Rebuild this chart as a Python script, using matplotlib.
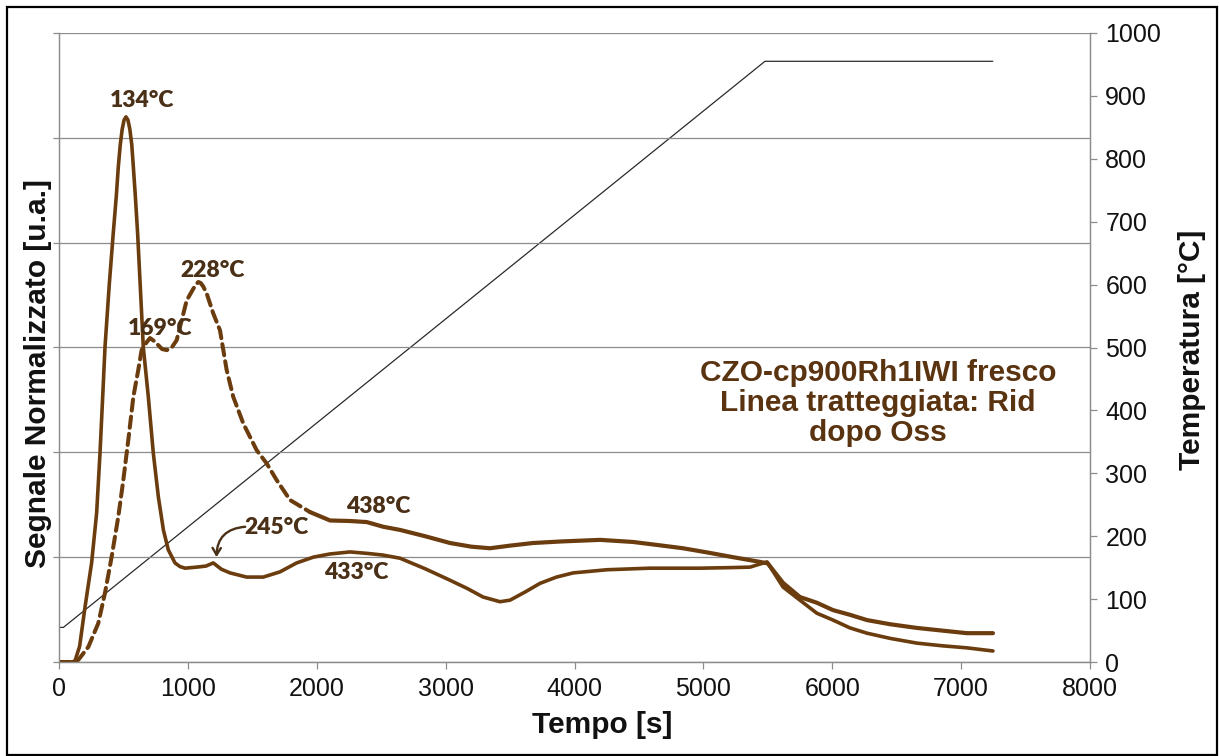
import matplotlib
matplotlib.use("Agg")
import matplotlib.pyplot as plt
from matplotlib.patches import Rectangle

# --- data -------------------------------------------------------------
# fresh sample (solid line): time [s] and normalised signal [a.u.]
t_fresco = [0, 100, 124, 160, 202, 253, 292, 318, 339, 357, 390, 421, 445,
            460, 475, 490, 505, 520, 535, 550, 565, 577, 592, 610, 632, 654,
            693, 732, 771, 810, 848, 900, 939, 978, 1068, 1140, 1197, 1260,
            1327, 1456, 1585, 1715, 1844, 1973, 2100, 2258, 2400, 2514, 2646,
            2840, 3034, 3170, 3290, 3422, 3500, 3620, 3732, 3860, 3990, 4252,
            4586, 4974, 5200, 5362, 5494, 5618, 5749, 5881, 6006, 6138, 6269,
            6450, 6657, 6850, 7045, 7247]
s_fresco = [0.0, 0.0, 0.002, 0.03, 0.105, 0.189, 0.284, 0.398, 0.506, 0.601,
            0.72, 0.818, 0.89, 0.944, 0.986, 1.016, 1.034, 1.04, 1.034, 1.016,
            0.986, 0.944, 0.89, 0.818, 0.71, 0.601, 0.506, 0.398, 0.315, 0.252,
            0.214, 0.189, 0.182, 0.179, 0.181, 0.183, 0.189, 0.177, 0.17,
            0.162, 0.162, 0.172, 0.189, 0.2, 0.206, 0.21, 0.207, 0.204, 0.198,
            0.178, 0.156, 0.14, 0.124, 0.115, 0.118, 0.134, 0.15, 0.162, 0.17,
            0.176, 0.179, 0.179, 0.18, 0.181, 0.191, 0.143, 0.118, 0.093, 0.08,
            0.065, 0.055, 0.045, 0.036, 0.031, 0.027, 0.021]

# reduction after oxidation (dashed line)
t_rid = [0, 100, 150, 228, 305, 357, 408, 460, 499, 538, 577, 615, 641, 680,
         706, 740, 800, 836, 875, 913, 950, 991, 1042, 1065, 1081, 1100, 1120,
         1146, 1197, 1249, 1301, 1352, 1430, 1534, 1611, 1689, 1793, 1948,
         2103, 2258, 2387, 2516, 2646, 2840, 3034, 3200, 3344, 3500, 3678,
         3900, 4198, 4454, 4650, 4842, 5030, 5230, 5439, 5500, 5618, 5749,
         5881, 6006, 6138, 6269, 6450, 6657, 6850, 7045, 7247]
s_rid = [0.0, 0.0, 0.004, 0.029, 0.074, 0.132, 0.2, 0.277, 0.347, 0.424,
         0.506, 0.557, 0.595, 0.61, 0.618, 0.612, 0.597, 0.595, 0.6, 0.614,
         0.65, 0.69, 0.712, 0.721, 0.725, 0.723, 0.716, 0.703, 0.665, 0.633,
         0.557, 0.506, 0.455, 0.404, 0.379, 0.347, 0.309, 0.286, 0.27, 0.269,
         0.267, 0.258, 0.252, 0.24, 0.227, 0.22, 0.217, 0.222, 0.227, 0.23,
         0.233, 0.229, 0.223, 0.217, 0.209, 0.2, 0.191, 0.188, 0.151, 0.124,
         0.113, 0.099, 0.09, 0.08, 0.072, 0.065, 0.06, 0.055, 0.055]

# temperature programme
t_temp = [0, 34, 5478, 7244]
temp = [55, 55, 955, 955]

# peak labels: text, anchor (time, signal)
peak_labels = ["134°C", "228°C", "169°C", "245°C", "433°C", "438°C"]
peak_pos = [(642, 1.071), (1195, 0.746), (784, 0.637), (1689, 0.256),
            (2310, 0.170), (2475, 0.296)]

x_ticks = [0, 1000, 2000, 3000, 4000, 5000, 6000, 7000, 8000]
t_ticks = [0, 100, 200, 300, 400, 500, 600, 700, 800, 900, 1000]

# --- styling ----------------------------------------------------------
BROWN = "#6b3c0e"
LABEL_BROWN = "#4a3016"
BOX_BROWN = "#5a3310"
GRID = "#8c8c8c"
W, H = 1219, 756

plt.rcParams["font.family"] = ["Liberation Sans", "DejaVu Sans"]

fig = plt.figure(figsize=(W / 100, H / 100), dpi=100)
ax = fig.add_axes([59 / W, (H - 662) / H, (1090 - 59) / W, (662 - 33) / H])
ax2 = ax.twinx()

# signal axis
ax.set_xlim(0, 8000)
ax.set_ylim(0, 1.2)
ax.set_xticks(x_ticks)
ax.set_xticklabels([str(v) for v in x_ticks])
ax.set_yticks([0, 0.2, 0.4, 0.6, 0.8, 1.0, 1.2])
ax.set_yticklabels([])
ax.yaxis.grid(True, color=GRID, lw=0.9)
ax.set_axisbelow(True)
ax.tick_params(axis="x", direction="out", length=5, width=0.9, color=GRID,
               labelsize=18, pad=6, labelcolor="#111111")
ax.tick_params(axis="y", direction="out", length=4.5, width=0.9, color=GRID)
for side in ("left", "bottom", "right"):
    ax.spines[side].set_color(GRID)
    ax.spines[side].set_linewidth(0.9)
ax.spines["top"].set_visible(False)

# temperature axis
ax2.set_ylim(0, 1000)
ax2.set_yticks(t_ticks)
ax2.tick_params(axis="y", direction="out", length=5, width=0.9, color=GRID,
                labelsize=18, pad=6, labelcolor="#111111")
for side in ("left", "bottom", "right"):
    ax2.spines[side].set_color(GRID)
    ax2.spines[side].set_linewidth(0.9)
ax2.spines["top"].set_visible(False)
ax2.plot(t_temp, temp, color="#2a2a2a", lw=0.9, zorder=1)

# signal curves (drawn on top of the temperature line)
ax.set_zorder(ax2.get_zorder() + 1)
ax.patch.set_visible(False)
ax.plot(t_fresco, s_fresco, color=BROWN, lw=2.6, solid_joinstyle="round",
        solid_capstyle="round")
n_dash = next(i for i, t in enumerate(t_rid) if t >= 1948)
ax.plot(t_rid[:n_dash + 1], s_rid[:n_dash + 1], color=BROWN, lw=2.9,
        linestyle=(0, (2.8, 1.5)), dash_capstyle="round")
ax.plot(t_rid[n_dash:], s_rid[n_dash:], color=BROWN, lw=3.0,
        solid_joinstyle="round", solid_capstyle="round")

# peak temperature labels
lab_font = dict(family=["Lato", "DejaVu Sans"], weight="heavy", size=16.5,
                color=LABEL_BROWN, ha="center", va="center")
for txt, (px, py) in zip(peak_labels, peak_pos):
    ax.text(px, py, txt, **lab_font)
ax.annotate("", xy=(1222, 0.200), xytext=(1445, 0.258),
            arrowprops=dict(arrowstyle="->,head_length=0.5,head_width=0.3",
                            color=LABEL_BROWN, lw=1.7,
                            connectionstyle="arc3,rad=0.45",
                            shrinkA=0, shrinkB=0))

ax.text(6354, 0.494, "CZO-cp900Rh1IWI fresco\nLinea tratteggiata: Rid\ndopo Oss",
        ha="center", va="center", multialignment="center", fontsize=21.5,
        fontweight="bold", color=BOX_BROWN, linespacing=1.08)

# axis titles
fig.text(602 / W, 1 - 725 / H, "Tempo [s]", ha="center", va="center",
         fontsize=21.5, fontweight="bold", color="#111111")
fig.text(38 / W, 1 - 374 / H, "Segnale Normalizzato [u.a.]", ha="center",
         va="center", rotation=90, fontsize=21.5, fontweight="bold",
         color="#111111")
fig.text(1192 / W, 1 - 350 / H, "Temperatura [°C]", ha="center", va="center",
         rotation=90, fontsize=21.5, fontweight="bold", color="#111111")

# frame around the whole chart
fig.patches.append(Rectangle((7 / W, 1 / H), (1217 - 7) / W, (755 - 7) / H,
                             transform=fig.transFigure, fill=False,
                             edgecolor="black", lw=1.6))

fig.savefig("out.png", dpi=100, facecolor="white")
